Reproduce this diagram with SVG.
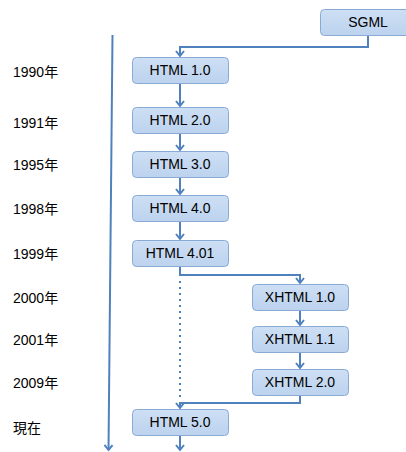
<svg xmlns="http://www.w3.org/2000/svg" width="406" height="452" viewBox="0 0 406 452">
<defs>
<marker id="arr" markerUnits="userSpaceOnUse" markerWidth="12" markerHeight="12" viewBox="-7 -6 9 12" refX="0" refY="0" orient="auto">
<path d="M-5,-4 L0,0 L-5,4" fill="none" stroke="#4f81bd" stroke-width="2"/>
</marker>
<linearGradient id="g" x1="0" y1="0" x2="0" y2="1">
<stop offset="0" stop-color="#cddff4"/>
<stop offset="1" stop-color="#bcd2ee"/>
</linearGradient>
</defs>
<style>
.box{fill:url(#g);stroke:#8aaad6;stroke-width:1}
.lbl{font-family:"Liberation Sans","Noto Sans",sans-serif;font-size:14px;fill:#000;text-anchor:middle}
.yr{font-family:"Liberation Sans","Noto Sans CJK JP",sans-serif;font-size:14px;fill:#000}
.c{fill:none;stroke:#4f81bd;stroke-width:2}
.dot{fill:none;stroke:#4f81bd;stroke-width:2;stroke-dasharray:2 4}
</style>
<rect width="406" height="452" fill="#fff"/>
<g id="years">
<text class="yr" x="13" y="77">1990年</text>
<text class="yr" x="13" y="128">1991年</text>
<text class="yr" x="13" y="170">1995年</text>
<text class="yr" x="13" y="214">1998年</text>
<text class="yr" x="13" y="259">1999年</text>
<text class="yr" x="13" y="303">2000年</text>
<text class="yr" x="13" y="345">2001年</text>
<text class="yr" x="13" y="388">2009年</text>
<text class="yr" x="13" y="433">現在</text>
</g>
<g id="connectors">
<path class="c" d="M112.5,35 L108.5,450" marker-end="url(#arr)"/>
<path class="c" d="M368,35 V47 H180 V56" marker-end="url(#arr)"/>
<path class="c" d="M180,83 V106" marker-end="url(#arr)"/>
<path class="c" d="M180,133 V150" marker-end="url(#arr)"/>
<path class="c" d="M180,177 V194" marker-end="url(#arr)"/>
<path class="c" d="M180,221 V239" marker-end="url(#arr)"/>
<path class="c" d="M180,266 V275 H300 V283" marker-end="url(#arr)"/>
<path class="dot" d="M180,281 V400"/>
<path class="c" d="M300,311 V325" marker-end="url(#arr)"/>
<path class="c" d="M300,352 V368" marker-end="url(#arr)"/>
<path class="c" d="M300,396 V403 H180 V408" marker-end="url(#arr)"/>
<path class="c" d="M180,436 V450" marker-end="url(#arr)"/>
</g>
<g id="sgml"><rect class="box" x="320.5" y="9.5" width="96" height="26" rx="4"/><text class="lbl" x="368" y="27">SGML</text></g>
<g id="html10"><rect class="box" x="132.5" y="57.5" width="96" height="26" rx="4"/><text class="lbl" x="180" y="75">HTML 1.0</text></g>
<g id="html20"><rect class="box" x="132.5" y="107.5" width="96" height="26" rx="4"/><text class="lbl" x="180" y="125">HTML 2.0</text></g>
<g id="html30"><rect class="box" x="132.5" y="151.5" width="96" height="26" rx="4"/><text class="lbl" x="180" y="169">HTML 3.0</text></g>
<g id="html40"><rect class="box" x="132.5" y="195.5" width="96" height="26" rx="4"/><text class="lbl" x="180" y="213">HTML 4.0</text></g>
<g id="html401"><rect class="box" x="132.5" y="240.5" width="96" height="26" rx="4"/><text class="lbl" x="180" y="258">HTML 4.01</text></g>
<g id="xhtml10"><rect class="box" x="252.5" y="284.5" width="96" height="26" rx="4"/><text class="lbl" x="300" y="302">XHTML 1.0</text></g>
<g id="xhtml11"><rect class="box" x="252.5" y="326.5" width="96" height="26" rx="4"/><text class="lbl" x="300" y="344">XHTML 1.1</text></g>
<g id="xhtml20"><rect class="box" x="252.5" y="369.5" width="96" height="26" rx="4"/><text class="lbl" x="300" y="387">XHTML 2.0</text></g>
<g id="html50"><rect class="box" x="132.5" y="409.5" width="96" height="26" rx="4"/><text class="lbl" x="180" y="427">HTML 5.0</text></g>
</svg>
